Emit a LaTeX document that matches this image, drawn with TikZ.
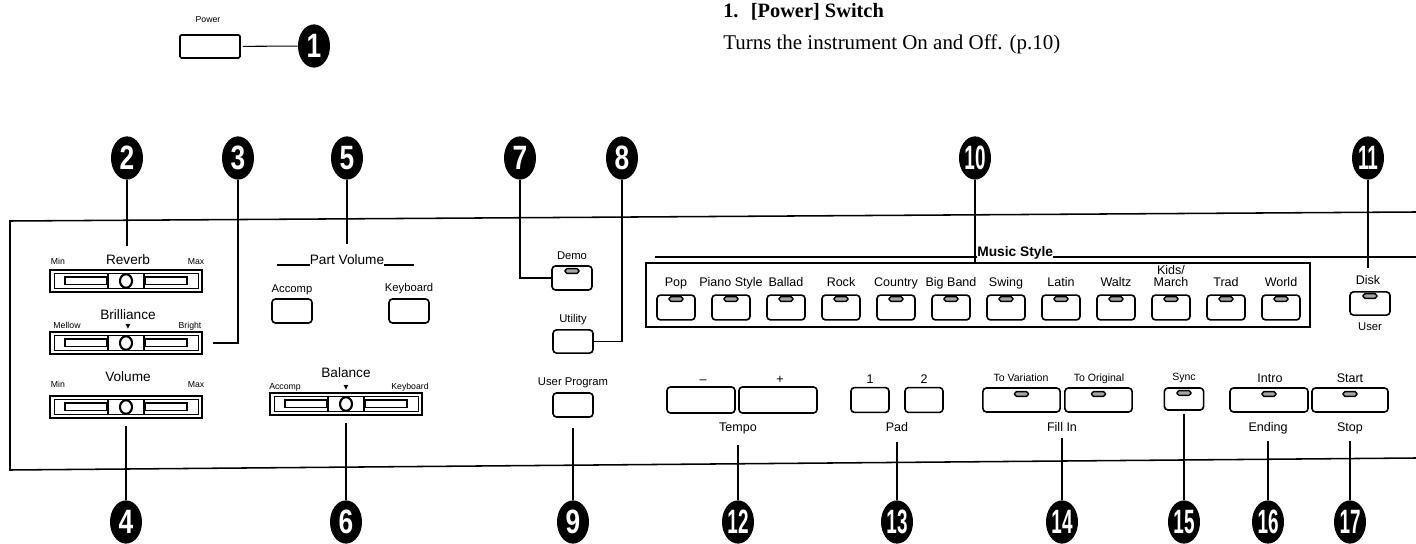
\documentclass[tikz,border=0pt]{standalone}
\usepackage{graphicx}
\usepackage{fontspec}
\setmainfont{Liberation Serif}
\setsansfont{Liberation Sans}
\newfontfamily\symfont{DejaVu Sans}
\usetikzlibrary{shapes.geometric}

\newcommand\cnum[1]{\scalebox{0.78}[1]{#1}}
\newcommand\cnumw[1]{\scalebox{0.56}[1]{#1}}

\begin{document}
\begin{tikzpicture}[x=0.025cm, y=-0.025cm,
  callout/.style={ellipse, fill=black, text=white, inner sep=0pt, minimum width=0.8cm, minimum height=1.08cm, font=\sffamily\bfseries\fontsize{24}{24}\selectfont},
  leader/.style={line width=0.75pt},
  frameline/.style={line width=1.1pt},
  btn/.style={draw, line width=1.15pt, rounded corners=2.5pt, inner sep=0pt, minimum width=0.95cm, minimum height=0.62cm},
  led/.style={draw, line width=1.1pt, fill=black!35, rounded corners=1.3pt, inner sep=0pt, minimum width=0.34cm, minimum height=0.12cm},
  big/.style={font=\sffamily\fontsize{9.7}{11}\selectfont, inner sep=0pt, anchor=base},
  tiny/.style={font=\sffamily\fontsize{6.2}{7}\selectfont, inner sep=0pt, anchor=base},
  mid/.style={font=\sffamily\fontsize{8}{9}\selectfont, inner sep=0pt, anchor=base},
  mslab/.style={font=\sffamily\fontsize{8.9}{10}\selectfont, inner sep=0pt, anchor=base},
  sm/.style={font=\sffamily\fontsize{7.5}{9}\selectfont, inner sep=0pt, anchor=base},
  tri/.style={font=\symfont\fontsize{4.5}{5}\selectfont, inner sep=0pt, anchor=base},
  slider/.pic={
    \node[draw, line width=1.3pt, minimum width=3.8cm, minimum height=0.55cm, inner sep=0pt] (-box) at (0,0) {};
    \draw[line width=0.6pt] (-72,-7.5) rectangle (72,7.5);
    \draw[line width=0.8pt] (-61,-4) rectangle (-19,3.5);
    \draw[line width=0.8pt] (19,-4) rectangle (61,3.5);
    \draw[line width=0.9pt, fill=white] (-18,-7.5) rectangle (18,7.5);
    \draw[line width=1.5pt, fill=white] (0,0) ellipse [x radius=0.15cm, y radius=0.17cm];
  }]
  \useasboundingbox (0,0) rectangle (1416,544);
  \coordinate (rEdge) at (1416,0);

  % Power switch
  \node[tiny] (labPower) at (208,23) {Power};
  \node[draw, line width=1.15pt, rounded corners=1pt, minimum width=1.5cm, minimum height=0.575cm, inner sep=0pt] (power) at (210,46.5) {};
  \node[callout] (c1) at (314,46) {\cnum{1}};
  \draw[leader, shorten <=1.5pt] (power) -- (c1);

  % Header text
  \node[anchor=base west, inner sep=0pt, font=\bfseries\fontsize{14.5}{16}\selectfont] (head) at (723,18) {1.\hspace{0.6em}[Power] Switch};
  \node[anchor=base west, inner sep=0pt, font=\fontsize{14.9}{17}\selectfont] (desc) at (723,50) {Turns the instrument On and Off. (p.10)};

  % Panel frame
  \draw[frameline] (1416,212) -- (10,221) -- (10,470) -- (1416,458);

  % Sliders
  \pic (slRev) at (126,281) {slider};
  \pic (slBri) at (126,343) {slider};
  \pic (slVol) at (126,407) {slider};
  \pic (slBal) at (346,404) {slider};
  \node[big] (labRev) at (128,265) {Reverb};
  \node[tiny] at (58,265) {Min};
  \node[tiny] at (196,265) {Max};
  \node[big] (labBri) at (128,320) {Brilliance};
  \node[tiny] at (67,329) {Mellow};
  \node[tri] at (128,329) {▼};
  \node[tiny] at (190,329) {Bright};
  \node[big] (labVol) at (128,382) {Volume};
  \node[tiny] at (58,388) {Min};
  \node[tiny] at (196,388) {Max};
  \node[big] (labBal) at (346,378) {Balance};
  \node[tiny] at (285,390) {Accomp};
  \node[tri] at (346,390) {▼};
  \node[tiny] at (410,390) {Keyboard};

  % Part Volume
  \node[big] (labPV) at (347,265) {Part Volume};
  \draw[leader] (labPV.base west) -- ++(-33,0);
  \draw[leader] (labPV.base east) -- ++(30,0);
  \node[mid] (labAcc) at (292,293) {Accomp};
  \node[btn, minimum width=1cm, minimum height=0.6cm] (btnAcc) at (292,311) {};
  \node[mid] (labKey) at (409,292) {Keyboard};
  \node[btn, minimum width=1cm, minimum height=0.6cm] (btnKey) at (409,311) {};

  % Demo, Utility, User Program
  \node[mid] (labDemo) at (572,260) {Demo};
  \node[btn, minimum width=1cm, minimum height=0.6cm] (btnDemo) at (572,278) {};
  \node[led] at (572,271) {};
  \node[mid] (labUtil) at (573,323) {Utility};
  \node[btn, minimum width=1cm, minimum height=0.58cm] (btnUtil) at (573,341.5) {};
  \node[mid] (labUser) at (573,386) {User Program};
  \node[btn, minimum width=1cm, minimum height=0.6cm] (btnUser) at (573,405) {};

  % Music Style
  \node[draw, line width=1pt, minimum width=16.6cm, minimum height=1.6cm, inner sep=0pt] (msbox) at (978,295) {};
  \node[font=\sffamily\bfseries\fontsize{9.8}{11}\selectfont, inner sep=0pt, anchor=base west] (labMS) at (977,257) {Music Style};
  \draw[leader] (labMS.base west) -- ++(-322,0);
  \draw[leader] (labMS.base east) -- (labMS.base east -| rEdge);
  \foreach \name [count=\i from 0] in {Pop,Piano Style,Ballad,Rock,Country,Big Band,Swing,Latin,Waltz,March,Trad,World} {
    \node[btn] (ms\i) at ({676+55*\i},307.5) {};
    \node[led] at ({676+55*\i},299) {};
    \node[mslab] (labMs\i) at ({676+55*\i},287) {\name};
  }
  \node[mslab] (labKids) at (1171,275) {Kids/};
  \node[mslab] (labDisk) at (1368,285) {Disk};
  \node[btn, minimum width=1cm, minimum height=0.58cm] (btnDisk) at (1370,303.5) {};
  \node[led] at (1370,296) {};
  \node[mid] (labDiskU) at (1370,331) {User};

  % Tempo, Pad, Fill In, Sync, Intro, Start
  \node[mslab] at (703,384) {–};
  \node[mslab] at (780,384) {+};
  \node[btn, minimum width=1.7cm, minimum height=0.65cm] (btnMinus) at (701,400) {};
  \node[btn, minimum width=1.95cm, minimum height=0.65cm] (btnPlus) at (778,400) {};
  \node[mslab] (labTempo) at (738,432) {Tempo};
  \node[mslab] at (870,384) {1};
  \node[mslab] at (924,384) {2};
  \node[btn] (btnPadA) at (870,400) {};
  \node[btn] (btnPadB) at (924,400) {};
  \node[mslab] (labPad) at (897,432) {Pad};
  \node[sm] at (1021,382) {To Variation};
  \node[sm] at (1099,382) {To Original};
  \node[btn, minimum width=1.93cm, minimum height=0.6cm] (btnVar) at (1021.5,400) {};
  \node[btn, minimum width=1.68cm, minimum height=0.6cm] (btnOrig) at (1098.5,400) {};
  \node[led] at (1021.5,394) {};
  \node[led] at (1098.5,394) {};
  \node[mslab] (labFill) at (1062,432) {Fill In};
  \node[sm] at (1184,381) {Sync};
  \node[btn, minimum width=0.98cm, minimum height=0.55cm] (btnSync) at (1184,399) {};
  \node[led] at (1184,393) {};
  \node[mslab] at (1270,383) {Intro};
  \node[btn, minimum width=1.95cm, minimum height=0.6cm] (btnIntro) at (1269,400) {};
  \node[led] at (1269,394) {};
  \node[mslab] (labEnd) at (1268,432) {Ending};
  \node[mslab] at (1350,383) {Start};
  \node[btn, minimum width=1.9cm, minimum height=0.6cm] (btnStart) at (1350,400) {};
  \node[led] at (1350,394) {};
  \node[mslab] (labStop) at (1350,432) {Stop};

  % Callouts, top
  \node[callout] (c2) at (127,158) {\cnum{2}};
  \node[callout] (c3) at (238,158) {\cnum{3}};
  \node[callout] (c5) at (347,158) {\cnum{5}};
  \node[callout] (c7) at (520,158) {\cnum{7}};
  \node[callout] (c8) at (622,158) {\cnum{8}};
  \node[callout] (c10) at (975,158) {\cnumw{10}};
  \node[callout] (c11) at (1368,158) {\cnumw{11}};
  % Callouts, bottom
  \node[callout] (c4) at (126,522) {\cnum{4}};
  \node[callout] (c6) at (346,522) {\cnum{6}};
  \node[callout] (c9) at (573,522) {\cnum{9}};
  \node[callout] (c12) at (738,522) {\cnumw{12}};
  \node[callout] (c13) at (897,522) {\cnumw{13}};
  \node[callout] (c14) at (1062,522) {\cnumw{14}};
  \node[callout] (c15) at (1184,522) {\cnumw{15}};
  \node[callout] (c16) at (1268,522) {\cnumw{16}};
  \node[callout] (c17) at (1350,522) {\cnumw{17}};

  % Leaders
  \coordinate (e2) at (127,246);
  \coordinate (e3) at (213,343);
  \coordinate (e5) at (347,244);
  \coordinate (e11) at (1368,268);
  \draw[leader] (c2) -- (e2);
  \draw[leader] (c3) |- (e3);
  \draw[leader] (c5) -- (e5);
  \draw[leader] (c7) |- (btnDemo);
  \draw[leader] (c8) |- (btnUtil);
  \draw[leader] (c10) -- (c10 |- msbox.north);
  \draw[leader] (c11) -- (e11);
  \draw[leader, shorten <=5pt] (slVol-box) -- (c4);
  \draw[leader, shorten <=5pt] (slBal-box) -- (c6);
  \draw[leader, shorten <=7pt] (btnUser) -- (c9);
  \draw[leader, shorten <=7pt] (labTempo) -- (c12);
  \draw[leader, shorten <=7pt] (labPad) -- (c13);
  \draw[leader, shorten <=4pt] (labFill) -- (c14);
  \draw[leader, shorten <=2pt] (btnSync) -- (c15);
  \draw[leader, shorten <=4pt] (labEnd) -- (c16);
  \draw[leader, shorten <=4pt] (labStop) -- (c17);
\end{tikzpicture}
\end{document}
